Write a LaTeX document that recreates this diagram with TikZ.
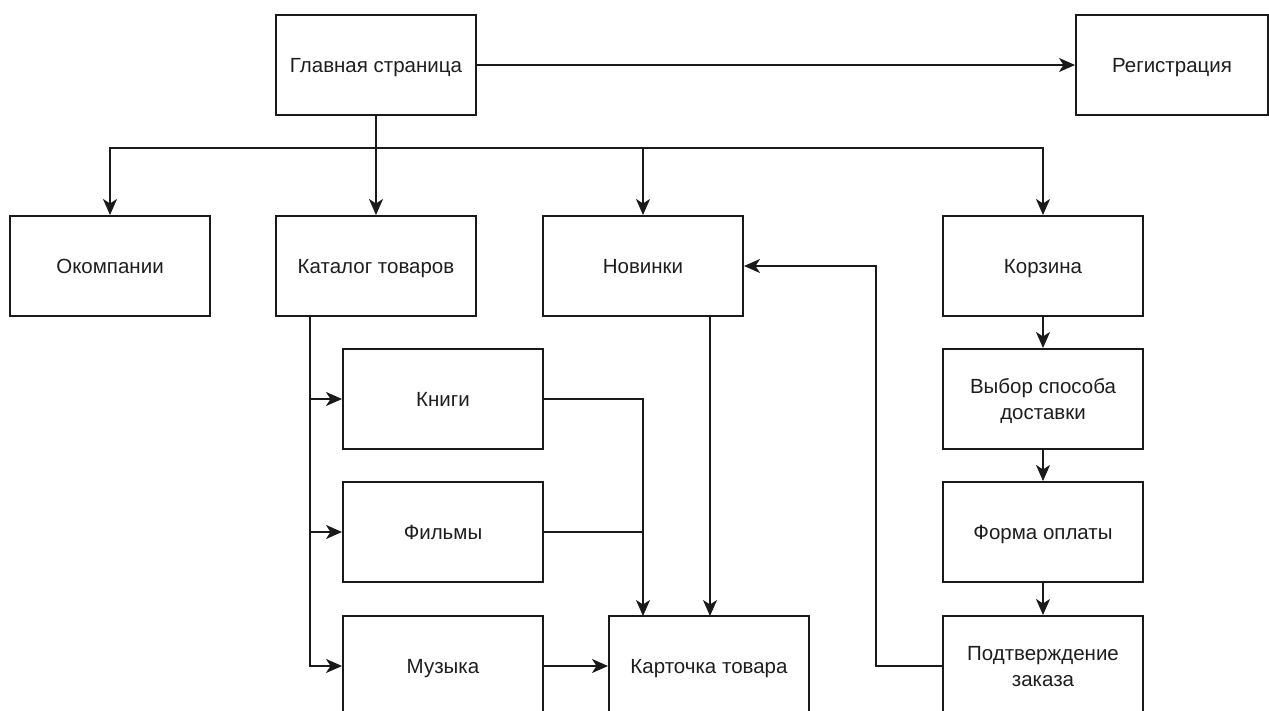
\documentclass[tikz,border=0pt]{standalone}
\usepackage{fontspec}
\setmainfont{Liberation Sans}
\usetikzlibrary{arrows.meta}
\definecolor{ln}{HTML}{1A1A1A}
\definecolor{tx}{HTML}{1E1E1E}
\begin{document}
\begin{tikzpicture}[x=1pt,y=-1pt,
  blk/.style={draw=ln, line width=2pt, minimum width=200pt, minimum height=100pt,
    inner sep=0pt, align=center, text=tx, text depth=0pt, font=\fontsize{20.5}{26}\selectfont},
  con/.style={draw=ln, line width=1.9pt},
  arr/.style={con, -{Stealth[length=16pt,width=14pt,inset=4.5pt]}}]
\clip (0,0) rectangle (1269,711);
\fill[white] (0,0) rectangle (1269,711);
% nodes
\node[blk] (gl) at (376,65) {Главная страница};
\node[blk, minimum width=192pt] (reg) at (1172,65) {Регистрация};
\node[blk] (ok) at (110,266) {Окомпании};
\node[blk] (kat) at (376,266) {Каталог товаров};
\node[blk] (nov) at (643,266) {Новинки};
\node[blk] (kor) at (1043,266) {Корзина};
\node[blk] (vyb) at (1043,399) {Выбор способа\\доставки};
\node[blk] (form) at (1043,532) {Форма оплаты};
\node[blk] (pod) at (1043,666) {Подтверждение\\заказа};
\node[blk] (kn) at (443,399) {Книги};
\node[blk] (fi) at (443,532) {Фильмы};
\node[blk] (mu) at (443,666) {Музыка};
\node[blk] (ka) at (709,666) {Карточка товара};
% helper coordinates
\coordinate (bus) at (376,148);
\coordinate (kx) at (310,316);
\coordinate (kt) at (643,616);
\coordinate (nt) at (710,616);
\coordinate (ns) at (710,316);
\coordinate (px) at (876,666);
% connectors
\draw[arr] (gl.east) -- (reg.west);
\draw[con] (gl.south) -- (bus);
\draw[arr] (bus) -| (ok.north);
\draw[arr] (bus) -- (kat.north);
\draw[arr] (bus) -| (nov.north);
\draw[arr] (bus) -| (kor.north);
\draw[arr] (kx) |- (kn.west);
\draw[arr] (kx) |- (fi.west);
\draw[arr] (kx) |- (mu.west);
\draw[arr] (kn.east) -| (kt);
\draw[con] (fi.east) -- (fi.east -| kt);
\draw[arr] (mu.east) -- (ka.west);
\draw[arr] (ns) -- (nt);
\draw[arr] (kor.south) -- (vyb.north);
\draw[arr] (vyb.south) -- (form.north);
\draw[arr] (form.south) -- (pod.north);
\draw[arr] (pod.west) -- (px) |- (nov.east);
\end{tikzpicture}
\end{document}
